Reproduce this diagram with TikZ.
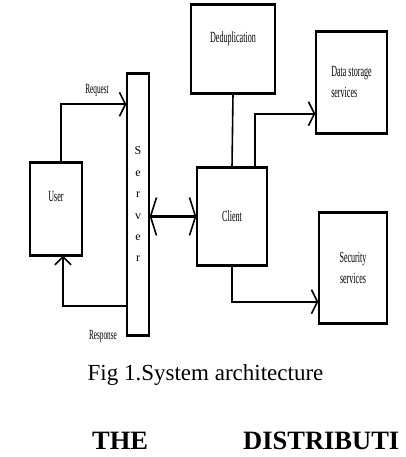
\documentclass[tikz,border=0pt]{standalone}
\usepackage{fontspec}
\setmainfont{Liberation Serif}
\usepackage{graphicx}
\usetikzlibrary{arrows.meta,calc}

\newcommand{\slimtext}[1]{\scalebox{0.52}[1]{#1}}

\begin{document}
\begin{tikzpicture}[
    x=1pt, y=-1pt,
    box/.style={rectangle, draw=black, line width=1.3pt, fill=white, inner sep=0pt, font=\fontsize{15.5}{21}\selectfont, align=center},
    bar/.style={line width=3.2pt},
    lbl/.style={font=\fontsize{14}{16}\selectfont, inner sep=0pt},
    conn/.style={line width=2.2pt, -{Straight Barb[length=6pt, width=24pt, line width=1.6pt]}},
    biconn/.style={line width=2.2pt, {Straight Barb[length=6pt, width=38pt, line width=1.6pt]}-{Straight Barb[length=6pt, width=38pt, line width=1.6pt]}},
]

\useasboundingbox[fill=white] (0,0) rectangle (405,457);

% === BOXES ===
\node[box, minimum width=84pt, minimum height=88pt] (dedup) at (233,49) {\slimtext{Deduplication}\\[2pt]};
\node[box, minimum width=71pt, minimum height=101pt, align=left] (store) at (351.5,82.5) {\slimtext{Data storage}\\\slimtext{services}};
\node[box, minimum width=22pt, minimum height=261pt, font=\fontsize{12}{21.4}\selectfont] (server) at (138,204.5) {S\\e\\r\\v\\e\\r};
\node[box, minimum width=52pt, minimum height=92pt] (user) at (56,209) {\slimtext{User}\\[4pt]};
\node[box, minimum width=70pt, minimum height=97pt] (client) at (232,216.5) {\slimtext{Client}};
\node[box, minimum width=68pt, minimum height=110pt] (sec) at (353,268) {\slimtext{Security}\\\slimtext{services}};

% thick top and bottom edges
\foreach \n in {dedup,store,server,user,client,sec} {
    \draw[bar] (\n.north west) -- (\n.north east);
    \draw[bar] (\n.south west) -- (\n.south east);
}

% === LABELS ===
\node[lbl] (request) at (97,90) {\slimtext{Request}};
\node[lbl] (response) at (103,336) {\slimtext{Response}};

% === ARROWS ===
\draw[conn] ([xshift=5pt]user.north) |- ([yshift=-31pt]server.north west);
\draw[conn, -{Straight Barb[length=8pt, width=16pt, line width=1.6pt]}] ([yshift=30pt]server.south west) -| ([xshift=7pt]user.south);
\draw[biconn] (server.east |- client.west) -- (client.west);
\draw[line width=1.6pt] (dedup.south) -- (client.north);
\draw[conn] ([xshift=-13pt]client.north east) |- ([yshift=20pt]store.south west);
\draw[conn] (client.south) |- ([yshift=22pt]sec.south west);

% === CAPTION ===
\node[font=\fontsize{23}{28}\selectfont, inner sep=0pt] (caption) at (205.5,375) {Fig 1.System architecture};
\node[font=\fontsize{26.5}{30}\selectfont\bfseries, anchor=west, inner sep=0pt] (the) at (92,441) {THE};
\node[font=\fontsize{26.5}{30}\selectfont\bfseries, anchor=west, inner sep=0pt] (distrib) at (243,441) {DISTRIBUTI};

\end{tikzpicture}
\end{document}
